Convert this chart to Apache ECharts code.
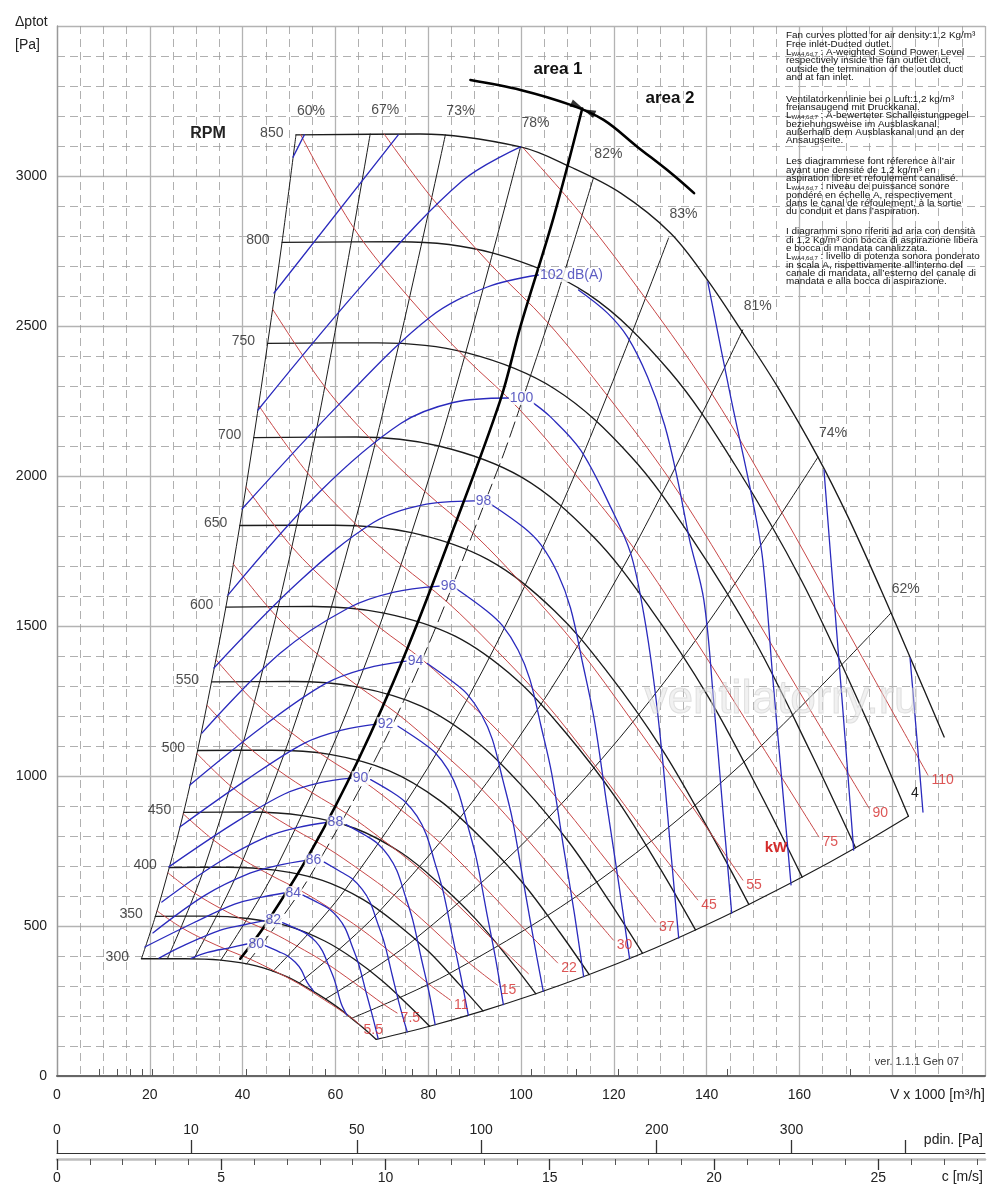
<!DOCTYPE html>
<html>
<head>
<meta charset="utf-8">
<title>Fan curves</title>
<script src="https://cdn.jsdelivr.net/npm/echarts@6.0.0/dist/echarts.min.js"></script>
<style>
html,body{margin:0;padding:0;background:#ffffff;}
#chart{width:1000px;height:1204px;}
</style>
</head>
<body>
<div id="chart"></div>
<script>
// ================= DATA (V x1000 m3/h , dp Pa) =================
const rpmLabels = [300,350,400,450,500,550,600,650,700,750,800,850];
const rpmCurves = [
 [[18.2,391],[27.6,391],[35.3,386],[42.9,367],[49.5,331],[54.8,286],[60.2,232],[65.0,173],[68.8,122]],
 [[21.2,532],[32.2,533],[41.1,525],[50.0,499],[57.7,450],[64.0,390],[70.2,316],[75.8,235],[80.3,166]],
 [[24.2,695],[36.8,696],[47.0,686],[57.2,652],[66.0,588],[73.1,509],[80.2,413],[86.6,307],[91.8,217]],
 [[27.3,879],[41.5,880],[52.9,868],[64.3,825],[74.2,744],[82.2,644],[90.3,522],[97.5,389],[103.2,274]],
 [[30.3,1085],[46.1,1086],[58.8,1072],[71.5,1018],[82.5,918],[91.3,795],[100.3,645],[108.3,480],[114.7,338]],
 [[33.3,1314],[50.7,1315],[64.6,1297],[78.6,1232],[90.7,1111],[100.5,962],[110.3,780],[119.1,581],[126.2,409]],
 [[36.4,1563],[55.3,1565],[70.5,1543],[85.8,1466],[99.0,1322],[109.6,1145],[120.4,928],[130.0,691],[137.6,487]],
 [[39.4,1835],[59.9,1836],[76.4,1811],[92.9,1721],[107.2,1551],[118.8,1343],[130.4,1089],[140.8,811],[149.1,572]],
 [[42.4,2128],[64.5,2130],[82.3,2100],[100.1,1996],[115.5,1799],[127.9,1558],[140.4,1263],[151.6,941],[160.6,663]],
 [[45.4,2442],[69.1,2444],[88.2,2411],[107.2,2291],[123.7,2065],[137.0,1788],[150.4,1450],[162.4,1080],[172.1,761]],
 [[48.5,2779],[73.7,2781],[94.0,2743],[114.4,2607],[132.0,2350],[146.2,2035],[160.5,1650],[173.3,1229],[183.5,866]],
 [[51.5,3137],[78.3,3140],[99.9,3097],[110.7,3030],[121.5,2943],[132.2,2810],[140.2,2653],[147.4,2487],[155.3,2297],[164.0,2063],[170.5,1863],[177.6,1620],[184.1,1387],[191.2,1130]]
];

const effLabels = ['60%','67%','73%','78%','82%','83%','81%','74%','62%'];
const effLines = [
 [[51.5,3137],[48.5,2779],[45.4,2442],[42.4,2128],[39.4,1835],[36.4,1563],[33.3,1314],[30.3,1085],[27.3,879],[24.2,695],[21.2,532],[18.2,391]],
 [[67.5,3140],[55.6,2130],[43.7,1315],[31.8,696],[23.8,391]],
 [[83.7,3137],[68.9,2128],[54.2,1313],[39.4,695],[29.5,391]],
 [[99.9,3097],[82.3,2100],[64.6,1297],[47.0,686],[35.3,386]],
 [[115.6,2993],[107.9,2608],[100.2,2249]],
 [[131.8,2793],[108.5,1894],[85.3,1169],[62.0,619],[46.5,348]],
 [[147.8,2487],[121.7,1687],[95.6,1041],[69.6,551],[52.2,310]],
 [[164.0,2063],[135.1,1399],[106.1,864],[77.2,457],[57.9,257]],
 [[179.7,1543],[148.0,1046],[116.3,646],[84.6,342],[63.4,192]]
];
const eff82Lower = [[100.2,2249],[95.2,2030],[74.8,1253],[54.4,663],[40.8,373]];

const bottomBoundary = [[68.8,122],[80.3,166],[91.8,217],[103.2,274],[114.7,338],[126.2,409],[137.6,487],[149.1,572],[160.6,663],[172.1,761],[183.5,866]];

const kwLabels = ['5.5','7.5','11','15','','22','30','37','45','55','75','90','110'];
const kwLines = [
 [[21.57,550],[26.80,495],[31.84,454],[36.78,420],[41.69,389],[46.75,351],[52.04,308],[57.59,254],[63.56,193],[65.3,170]],
 [[23.92,677],[29.72,609],[35.31,558],[40.79,516],[46.24,479],[51.85,432],[57.71,379],[63.86,313],[70.49,238],[73.3,210]],
 [[27.18,874],[33.77,786],[40.12,721],[46.35,667],[52.53,618],[58.91,558],[65.57,489],[72.56,404],[80.08,307],[84.8,253]],
 [[30.14,1075],[37.45,966],[44.48,886],[51.39,820],[58.25,760],[65.32,686],[72.71,602],[80.46,497],[88.81,377],[94.9,303]],
 [[32.32,1236],[40.16,1111],[47.71,1019],[55.12,943],[62.46,874],[70.04,789],[77.96,692],[86.30,571],[95.24,434],[101.6,341]],
 [[34.25,1388],[42.55,1247],[50.54,1144],[58.39,1058],[66.19,981],[74.22,886],[82.61,777],[91.42,641],[100.9,487],[107.9,377]],
 [[37.98,1707],[47.18,1534],[56.05,1407],[64.75,1301],[73.39,1207],[82.30,1089],[91.60,955],[101.38,788],[111.89,598],[119.9,453]],
 [[40.73,1963],[50.60,1764],[60.11,1618],[69.44,1496],[78.71,1388],[88.26,1253],[98.24,1098],[108.72,907],[119.99,688],[129.0,513]],
 [[43.47,2235],[54.01,2010],[64.16,1843],[74.12,1705],[84.02,1581],[94.21,1427],[104.86,1251],[116.05,1033],[128.08,784],[138.1,587]],
 [[46.48,2556],[57.74,2297],[68.60,2107],[79.25,1949],[89.82,1807],[100.73,1632],[112.12,1431],[124.07,1181],[136.95,897],[147.8,653]],
 [[52.5,3138],[64.03,2825],[76.07,2591],[87.88,2396],[99.61,2223],[111.70,2006],[124.33,1759],[137.59,1452],[151.86,1102],[164.2,797]],
 [[70.5,3140],[80.84,2926],[93.39,2706],[105.85,2510],[118.70,2266],[132.12,1987],[146.21,1640],[161.37,1245],[175.0,893]],
 [[100.5,3093],[113.18,2869],[126.91,2590],[141.26,2271],[156.33,1875],[172.54,1423],[187.7,1003]]
];

const dbLabels = ['80','82','84','86','88','90','92','94','96','98','100','102 dB(A)'];
const dbLeft = [
 [[28.9,392],[32.46,412],[37.42,428],[40.94,440]],
 [[22.0,393],[27.03,433],[35.25,486],[40.64,505],[44.62,518]],
 [[18.93,430],[29.35,510],[38.28,573],[44.14,596],[48.93,610]],
 [[20.66,477],[31.87,602],[41.58,676],[47.93,703],[53.28,718]],
 [[22.60,580],[34.62,710],[45.15,797],[52.05,829],[58.00,845]],
 [[24.11,697],[37.59,837],[49.03,940],[56.53,977],[63.40,993]],
 [[26.47,830],[40.83,987],[53.25,1109],[61.39,1153],[68.79,1173]],
 [[28.64,970],[44.34,1165],[57.83,1308],[66.67,1359],[75.26,1383]],
 [[31.23,1143],[48.15,1410],[62.80,1560],[72.41,1612],[82.39,1633]],
 [[33.82,1360],[52.29,1650],[68.20,1845],[78.63,1903],[89.94,1917]],
 [[36.84,1603],[56.79,1950],[74.07,2175],[85.40,2245],[97.27,2260]],
 [[39.87,1890],[61.67,2253],[80.44,2530],[92.74,2630],[103.75,2670]],
 [[43.32,2220],[66.97,2657],[87.36,2984],[99.9,3097]],
 [[46.77,2610],[73.55,3137]],
 [[50.87,3063],[53.3,3137]]
];
const dbRight = [
 [[44.6,436],[47.88,414],[49.62,401],[51.36,379],[52.67,353],[53.89,313],[55.3,283]],
 [[48.6,511],[52.00,488],[53.89,473],[55.78,448],[57.20,417],[58.52,369],[59.84,318],[61.26,241],[62.5,203]],
 [[53.0,603],[56.47,576],[58.52,558],[60.58,528],[62.12,492],[63.55,435],[64.99,374],[66.53,284],[67.97,201],[69.2,125]],
 [[57.6,713],[61.32,679],[63.56,658],[65.78,622],[67.46,580],[69.02,513],[70.58,442],[72.26,335],[73.82,237],[75.48,147]],
 [[62.3,838],[66.60,801],[69.02,776],[71.44,734],[73.26,684],[74.96,605],[76.65,521],[78.47,395],[80.16,280],[81.5,171]],
 [[67.6,988],[72.33,945],[74.96,915],[77.59,866],[79.56,806],[81.40,713],[83.24,614],[85.22,466],[87.06,330],[88.65,202]],
 [[73.5,1166],[78.55,1114],[81.41,1079],[84.26,1021],[86.40,951],[88.40,841],[90.40,724],[92.55,549],[94.55,389],[96.2,238]],
 [[79.8,1375],[85.30,1314],[88.41,1273],[91.50,1204],[93.83,1122],[96.00,992],[98.17,854],[100.51,648],[102.68,458],[104.8,282]],
 [[86.0,1625],[92.64,1550],[96.01,1501],[99.37,1420],[101.90,1323],[104.26,1170],[106.62,1008],[109.15,764],[111.51,541],[113.5,331]],
 [[93.6,1905],[100.60,1828],[104.27,1771],[107.92,1675],[110.67,1560],[113.23,1380],[115.79,1188],[118.53,901],[121.10,638],[123.4,391]],
 [[102.68,2243],[106.35,2197],[112.82,2087],[119.30,1897],[123.62,1743],[126.43,1543],[128.59,1320],[130.53,1053],[132.26,753],[133.99,460]],
 [[112.39,2620],[118.65,2543],[122.97,2463],[127.28,2330],[130.95,2170],[133.76,1987],[136.33,1787],[139.4,1587],[141.5,1253],[143.5,887],[145.41,543]],
 [[140.25,2647],[145.2,2263],[149.9,1920],[152.1,1720],[154.3,1320],[156.2,987],[158.2,637]],
 [[165.3,2020],[166.8,1720],[169.2,1253],[171.7,753]],
 [[183.85,1393],[185.3,1130],[186.63,880]]
];

const areaLine = [[113.2,3225],[107.06,2864],[99.87,2498],[95.55,2253],[85.0,1806],[75.0,1406],[65.0,1056],[55.0,756],[45.0,506],[39.5,391]];
const areaArc = [[89.1,3320],[99.9,3287],[110.7,3237],[117.8,3187],[125.1,3097],[132.3,3010],[137.3,2943]];
const arrowPoints = [[112.1,3234],[114.6,3214]];

// secondary scales
const vMax = 200, pMax = 3500;
const cAtVmax = 28.25;              // outlet velocity c [m/s] at V = 200
const pdinMajorTicks = [0,10,50,100,200,300,400];
const pdinTickLabels = [0,10,50,100,200,300];
const pdinMinorTicks = [1,2,3,4,5,20,30,40,60,70,80,90,125,150,175,250,350];
const cMajorTicks = [0,5,10,15,20,25];
const cMinorTicks = [1,2,3,4,6,7,8,9,11,12,13,14,16,17,18,19,21,22,23,24,26,27,28];

const notes = [
 {y:36, lines:['Fan curves plotted for air density:1,2 Kg/m\u00b3','Free inlet-Ducted outlet.','L{s|WA4,6d,7} : A-weighted Sound Power Level','respectively inside the fan outlet duct,','outside the termination of the outlet duct','and at fan inlet.']},
 {y:99.3, lines:['Ventilatorkennlinie bei \u03c1 Luft:1,2 kg/m\u00b3','freiansaugend mit Druckkanal.','L{s|WA4,6d,7} : A-bewerteter Schalleistungpegel','beziehungsweise im Ausblaskanal,','au\u00dferhalb dem Ausblaskanal und an der','Ansaugseite.']},
 {y:161.7, lines:['Les diagrammese font r\u00e9ference \u00e0 l\u2019air','ayant une densit\u00e9 de 1,2 kg/m\u00b3 en','aspiration libre et refoulement canalis\u00e9.','L{s|WA4,6d,7} : niveau de puissance sonore','pond\u00e9r\u00e9 en \u00e9chelle A, respectivement','dans le canal de r\u00e9foulement, \u00e0 la sortie','du conduit et dans l\u2019aspiration.']},
 {y:231.7, lines:['I diagrammi sono riferiti ad aria con densit\u00e0','di 1,2 Kg/m\u00b3 con bocca di aspirazione libera','e bocca di mandata canalizzata.','L{s|WA4,6d,7} : livello di potenza sonora ponderato','in scala A, rispettivamente all\u2019interno del','canale di mandata, all\u2019esterno del canale di','mandata e alla bocca di aspirazione.']}
];

// ================= CHART =================
const FONT = '"Liberation Sans", Arial, Helvetica, sans-serif';
const BLACK = '#1c1c1c', RED = '#c84848', RED_T = '#d42b2b', BLUE = '#2a2abd', BLUE_T = '#3434b4';
const chart = echarts.init(document.getElementById('chart'));

function curve(data, color, width, dash, z) {
  return { type:'line', data: data, xAxisIndex:0, yAxisIndex:0, symbol:'none', showSymbol:false,
    smooth:0.35, silent:true, animation:false, z: z || 3,
    lineStyle:{ color: color, width: width, type: dash || 'solid', cap:'round', join:'round' } };
}
function labelSeries(data, lab, z) {
  return { type:'scatter', xAxisIndex:0, yAxisIndex:0, data: data, symbolSize:1, silent:true, animation:false, z: z || 8,
    itemStyle:{ color:'rgba(0,0,0,0)' },
    label: Object.assign({ show:true, formatter:'{b}', fontSize:14, fontFamily:FONT }, lab) };
}
const toC = p => Math.sqrt(p / 0.6);

const series = [];
rpmCurves.forEach(d => series.push(curve(d, BLACK, 1.35)));
effLines.forEach(d => series.push(curve(d, BLACK, 1)));
series.push(curve(eff82Lower, BLACK, 1, [16,6]));
series.push(curve(bottomBoundary, BLACK, 1.1));
kwLines.forEach(d => series.push(curve(d, RED, 1)));
dbLeft.forEach(d => series.push(curve(d, BLUE, 1.3)));
dbRight.forEach(d => series.push(curve(d, BLUE, 1.3)));
series.push(curve(areaLine, '#000', 2.6, null, 4));
series.push(curve(areaArc, '#000', 2.6, null, 4));

series.push({ type:'scatter', xAxisIndex:0, yAxisIndex:0, silent:true, animation:false, z:5,
  symbol:'triangle', symbolSize:[8,13],
  data: arrowPoints.map((p,i) => ({ value:p, symbolRotate: i === 0 ? -114 : 66 })),
  itemStyle:{ color:'#000' } });

series.push(labelSeries(rpmCurves.map((c,i) => ({ name:String(rpmLabels[i]), value:c[0] })),
  { position:'left', distance:12, offset:[0,-2], color:'#222' }));
series.push(labelSeries(effLines.map((c,i) => ({ name:effLabels[i], value:c[0] })),
  { position:'inside', offset:[15,-24], color:'#222' }));
series.push(labelSeries(kwLines.map((c,i) => ({ name:kwLabels[i], value:c[c.length-1] })).filter(d => d.name),
  { position:'right', distance:3, offset:[0,5], color:RED_T }));
series.push(labelSeries(dbLabels.map((n,i) => ({ name:n, value:dbLeft[i][dbLeft[i].length-1] })),
  { position:'right', distance:0, color:BLUE_T, backgroundColor:'#ffffff', padding:[0,1,0,1] }, 9));

const graphics = [];
function txt(x, y, text, o, extra) {
  graphics.push(Object.assign({ type:'text', x:x, y:y, silent:true, z:50,
    style: Object.assign({ text:text, fontFamily:FONT, fontSize:14, fill:'#222', align:'left', verticalAlign:'middle' }, o || {}) }, extra || {}));
}
txt(15, 22, '\u0394ptot');
txt(15, 45, '[Pa]');
txt(208, 134, 'RPM', { fontSize:16, fontWeight:'bold', align:'center' });
txt(558, 69, 'area 1', { fontSize:17, fontWeight:'bold', align:'center', fill:'#111' });
txt(670, 98, 'area 2', { fontSize:17, fontWeight:'bold', align:'center', fill:'#111' });
txt(776, 848, 'kW', { fontSize:15, fontWeight:'bold', align:'center', fill:RED_T });
txt(915, 793, '4', { align:'center', fill:'#222' });
txt(985, 1095, 'V x 1000 [m\u00b3/h]', { align:'right' });
txt(983, 1140, 'pdin. [Pa]', { align:'right' });
txt(983, 1177, 'c [m/s]', { align:'right' });
txt(917, 1062, 'ver. 1.1.1 Gen 07', { fontSize:11, align:'center', fill:'#333' });
notes.forEach(p => p.lines.forEach((ln, i) => {
  txt(786, p.y + i * 8.33, ln,
    { fontSize:9, fill:'#111', rich:{ s:{ fontSize:5.5, fontFamily:FONT, fill:'#111', verticalAlign:'bottom' } } },
    { scaleX:1.1 });
}));
graphics.push({ type:'text', x:782, y:700, silent:true, z:60,
  style:{ text:'ventilatorry.ru', fontFamily:FONT, fontSize:46, fill:'rgba(225,225,225,0.45)', stroke:'rgba(185,185,185,0.45)', lineWidth:1, align:'center', verticalAlign:'middle' } });

const dashedGrid = { color:'#9c9c9c', width:0.8, type:[8,5] };
const solidGrid = { color:'#b3b3b3', width:1.3 };

chart.setOption({
  animation:false,
  backgroundColor:'#ffffff',
  grid:{ left:57, right:15, top:26, bottom:128, containLabel:false },
  xAxis:[
    { type:'value', min:0, max:vMax, interval:20, position:'bottom',
      axisLine:{ show:true, onZero:false, lineStyle:{ color:'#666', width:2 } },
      axisTick:{ show:false },
      axisLabel:{ fontSize:14, color:'#222', fontFamily:FONT, margin:12, formatter: v => (v <= 160 ? String(v) : '') },
      splitLine:{ show:true, lineStyle:solidGrid },
      minorTick:{ show:false, splitNumber:4 },
      minorSplitLine:{ show:true, lineStyle:dashedGrid } },
    { type:'value', min:0, max:cAtVmax, position:'bottom', offset:77,
      axisLine:{ show:true, onZero:false, lineStyle:{ color:'#333', width:1 } },
      axisTick:{ show:true, inside:true, length:13, customValues: pdinMajorTicks.map(toC), lineStyle:{ color:'#333', width:1.3 } },
      axisLabel:{ show:true, inside:true, margin:16, customValues: pdinTickLabels.map(toC), formatter: v => String(Math.round(0.6 * v * v)), fontSize:14, color:'#222', fontFamily:FONT },
      splitLine:{ show:false } },
    { type:'value', min:0, max:cAtVmax, position:'bottom', offset:77,
      axisLine:{ show:false },
      axisTick:{ show:true, inside:true, length:7, customValues: pdinMinorTicks.map(toC), lineStyle:{ color:'#555', width:1 } },
      axisLabel:{ show:false }, splitLine:{ show:false } },
    { type:'value', min:0, max:cAtVmax, position:'bottom', offset:83,
      axisLine:{ show:true, onZero:false, lineStyle:{ color:'#bdbdbd', width:2.5 } },
      axisTick:{ show:true, length:11, customValues: cMajorTicks, lineStyle:{ color:'#333', width:1.3 } },
      axisLabel:{ show:true, margin:12, customValues: cMajorTicks, fontSize:14, color:'#222', fontFamily:FONT },
      splitLine:{ show:false } },
    { type:'value', min:0, max:cAtVmax, position:'bottom', offset:83,
      axisLine:{ show:false },
      axisTick:{ show:true, length:6, customValues: cMinorTicks, lineStyle:{ color:'#555', width:1 } },
      axisLabel:{ show:false }, splitLine:{ show:false } }
  ],
  yAxis:[
    { type:'value', min:0, max:pMax, interval:500,
      axisLine:{ show:true, lineStyle:{ color:'#999', width:1.3 } },
      axisTick:{ show:false },
      axisLabel:{ fontSize:14, color:'#222', fontFamily:FONT, margin:10, formatter: v => (v <= 3000 ? String(v) : '') },
      splitLine:{ show:true, lineStyle:solidGrid },
      minorTick:{ show:false, splitNumber:5 },
      minorSplitLine:{ show:true, lineStyle:dashedGrid } }
  ],
  series: series,
  graphic: graphics
});
</script>
</body>
</html>
